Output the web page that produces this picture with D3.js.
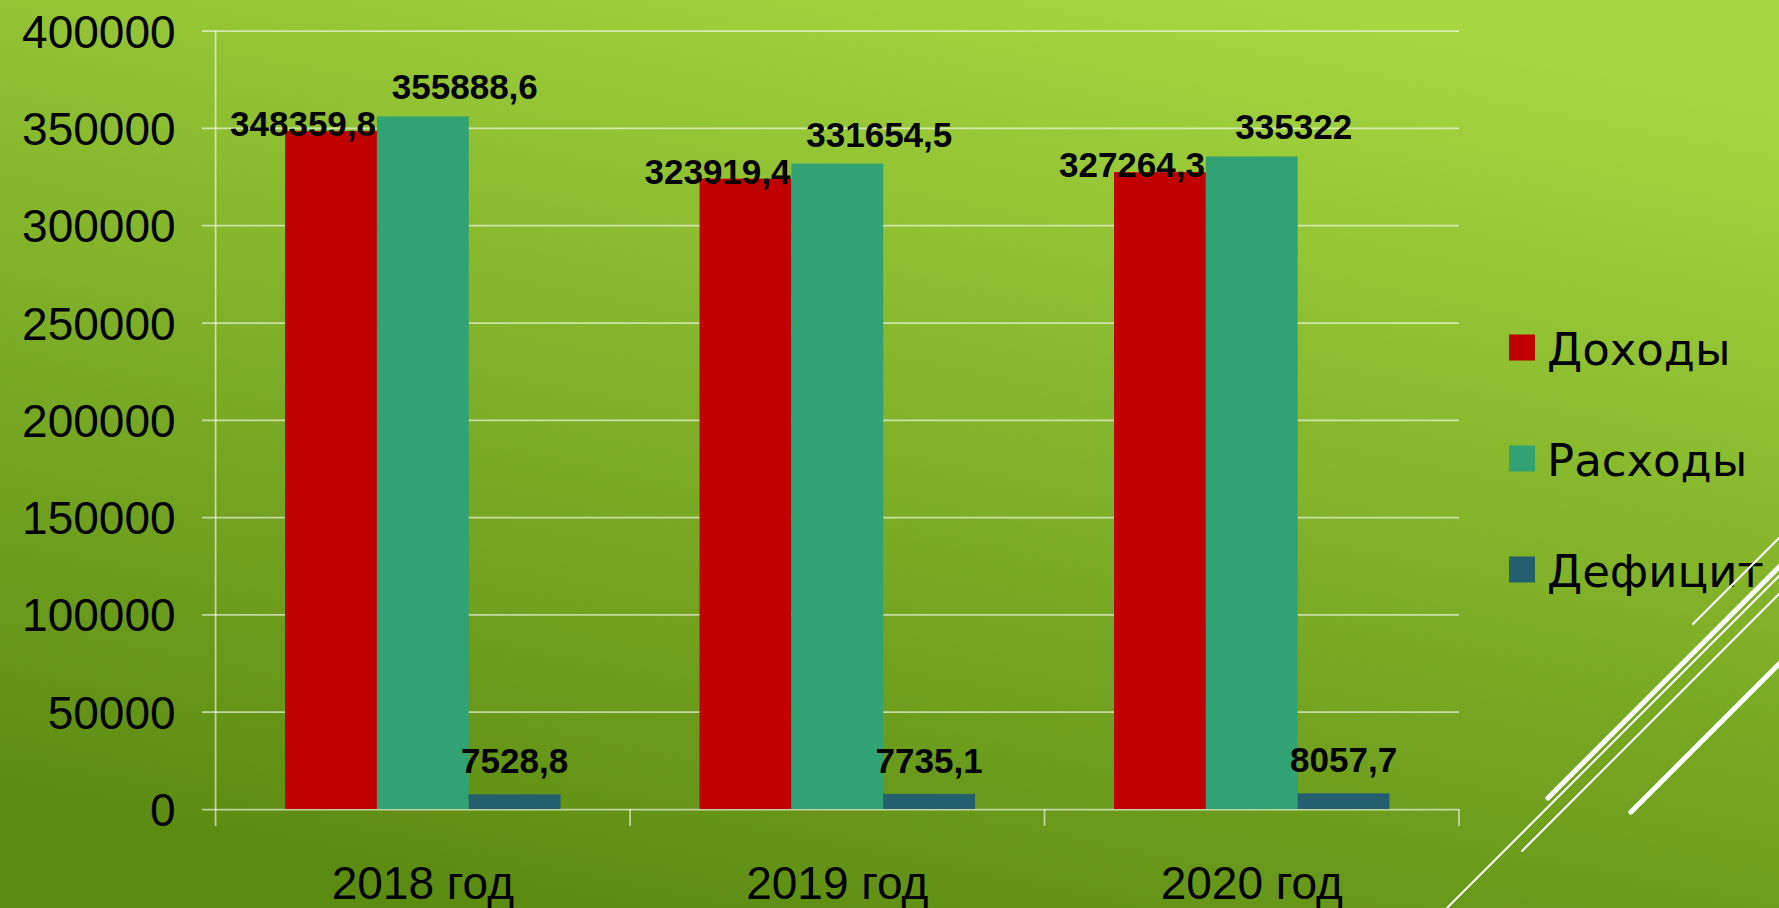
<!DOCTYPE html>
<html>
<head>
<meta charset="utf-8">
<script src="https://cdn.jsdelivr.net/npm/d3@7"></script>
<style>
  html, body { margin: 0; padding: 0; overflow: hidden; background: #7fae26; }
  svg { display: block; }
</style>
</head>
<body>
<svg id="chart" width="1779" height="908"></svg>
<script>
// ---- data ----
const categories = ["2018 год", "2019 год", "2020 год"];
const seriesNames = ["Доходы", "Расходы", "Дефицит"];
const incomeValues = [348359.8, 323919.4, 327264.3];
const expenseValues = [355888.6, 331654.5, 335322];
const deficitValues = [7528.8, 7735.1, 8057.7];
const valueLabels = [
  ["348359,8", "323919,4", "327264,3"],
  ["355888,6", "331654,5", "335322"],
  ["7528,8", "7735,1", "8057,7"]
];
const yTickValues = [0, 50000, 100000, 150000, 200000, 250000, 300000, 350000, 400000];

// ---- styles / layout ----
const W = 1779, H = 908;
const plotLeft = 215.6, plotRight = 1459, plotTop = 30.6, plotBottom = 809;
const colors = ["#C00000", "#31A273", "#245F70"];
const labelOffsets = [ {dx: -28, dy: 5}, {dx: 42, dy: -17}, {dx: 0, dy: -21} ];
const gridColor = "rgba(255,255,255,0.6)";
const axisFont = "'Liberation Sans', Arial, sans-serif";

const seriesValues = [incomeValues, expenseValues, deficitValues];

const svg = d3.select("#chart");

// background gradient
const defs = svg.append("defs");
const grad = defs.append("linearGradient").attr("id", "bg")
  .attr("x1", "0.3").attr("y1", "1").attr("x2", "0.7").attr("y2", "0");
grad.append("stop").attr("offset", "0").attr("stop-color", "#5c8b12");
grad.append("stop").attr("offset", "0.55").attr("stop-color", "#83b42a");
grad.append("stop").attr("offset", "1").attr("stop-color", "#a6d640");
svg.append("rect").attr("width", W).attr("height", H).attr("fill", "url(#bg)");

// scales
const y = d3.scaleLinear().domain([0, 400000]).range([plotBottom, plotTop]);
const x0 = d3.scaleBand().domain(categories).range([plotLeft, plotRight]).padding(0);
const x1 = d3.scaleBand().domain(seriesNames).range([0, x0.bandwidth()])
  .paddingInner(0).paddingOuter(0.757);

// y axis with gridlines
const yAxis = d3.axisLeft(y).tickValues(yTickValues)
  .tickSize(-(plotRight - plotLeft)).tickPadding(40).tickFormat(d3.format("d"));
const gy = svg.append("g").attr("transform", `translate(${plotLeft},0)`).call(yAxis);
gy.select(".domain").remove();
gy.selectAll(".tick line").attr("stroke", gridColor).attr("stroke-width", 1.75).attr("x1", -13.6);
gy.selectAll(".tick text").attr("fill", "#000").attr("font-family", axisFont)
  .attr("font-size", 46).attr("dy", "0.36em");

// vertical axis line
svg.append("line").attr("x1", plotLeft).attr("x2", plotLeft)
  .attr("y1", plotTop).attr("y2", plotBottom + 17)
  .attr("stroke", gridColor).attr("stroke-width", 1.75);

// category separator ticks
svg.append("g").selectAll("line").data(categories).join("line")
  .attr("x1", d => x0(d) + x0.bandwidth()).attr("x2", d => x0(d) + x0.bandwidth())
  .attr("y1", plotBottom).attr("y2", plotBottom + 17)
  .attr("stroke", gridColor).attr("stroke-width", 1.75);

// x labels
const xAxis = d3.axisBottom(x0).tickSize(0).tickPadding(0);
const gx = svg.append("g").attr("transform", `translate(0,${plotBottom})`).call(xAxis);
gx.select(".domain").remove();
gx.selectAll(".tick text").attr("fill", "#000").attr("font-family", axisFont)
  .attr("font-size", 46).attr("dy", null).attr("y", 90);

// bars
const flat = [];
seriesNames.forEach((s, si) => categories.forEach((c, ci) =>
  flat.push({ series: s, si, cat: c, ci, value: seriesValues[si][ci], label: valueLabels[si][ci] })));

svg.append("g").selectAll("rect").data(flat).join("rect")
  .attr("x", d => x0(d.cat) + x1(d.series))
  .attr("width", x1.bandwidth())
  .attr("y", d => y(d.value))
  .attr("height", d => y(0) - y(d.value))
  .attr("fill", d => colors[d.si]);

// data labels
svg.append("g").selectAll("text").data(flat).join("text")
  .attr("x", d => x0(d.cat) + x1(d.series) + x1.bandwidth() / 2 + labelOffsets[d.si].dx)
  .attr("y", d => y(d.value) + labelOffsets[d.si].dy)
  .attr("text-anchor", "middle")
  .attr("font-family", axisFont).attr("font-weight", "bold").attr("font-size", 35)
  .attr("fill", "#000")
  .text(d => d.label);

// legend
const legend = svg.append("g").attr("transform", "translate(1509,347.5)");
const li = legend.selectAll("g").data(seriesNames).join("g")
  .attr("transform", (d, i) => `translate(0,${i * 111})`);
li.append("rect").attr("x", 0).attr("y", -13).attr("width", 26).attr("height", 26)
  .attr("fill", (d, i) => colors[i]);
li.append("text").attr("x", 38).attr("y", 17)
  .attr("font-family", "'DejaVu Sans', sans-serif")
  .attr("font-size", 45).attr("fill", "#000").text(d => d);

// decorative slide lines (theme ornament)
const ornaments = [
  { x1: 1548, y1: 798, x2: 1800, y2: 546, w: 5 },
  { x1: 1447, y1: 908, x2: 1800, y2: 555, w: 2 },
  { x1: 1522, y1: 851, x2: 1800, y2: 573, w: 2 },
  { x1: 1631, y1: 812, x2: 1800, y2: 643, w: 5 },
  { x1: 1693, y1: 624, x2: 1800, y2: 517, w: 2 }
];
svg.append("g").selectAll("line").data(ornaments).join("line")
  .attr("x1", d => d.x1).attr("y1", d => d.y1).attr("x2", d => d.x2).attr("y2", d => d.y2)
  .attr("stroke", "#fff").attr("stroke-width", d => d.w).attr("stroke-linecap", "round");
</script>
</body>
</html>
